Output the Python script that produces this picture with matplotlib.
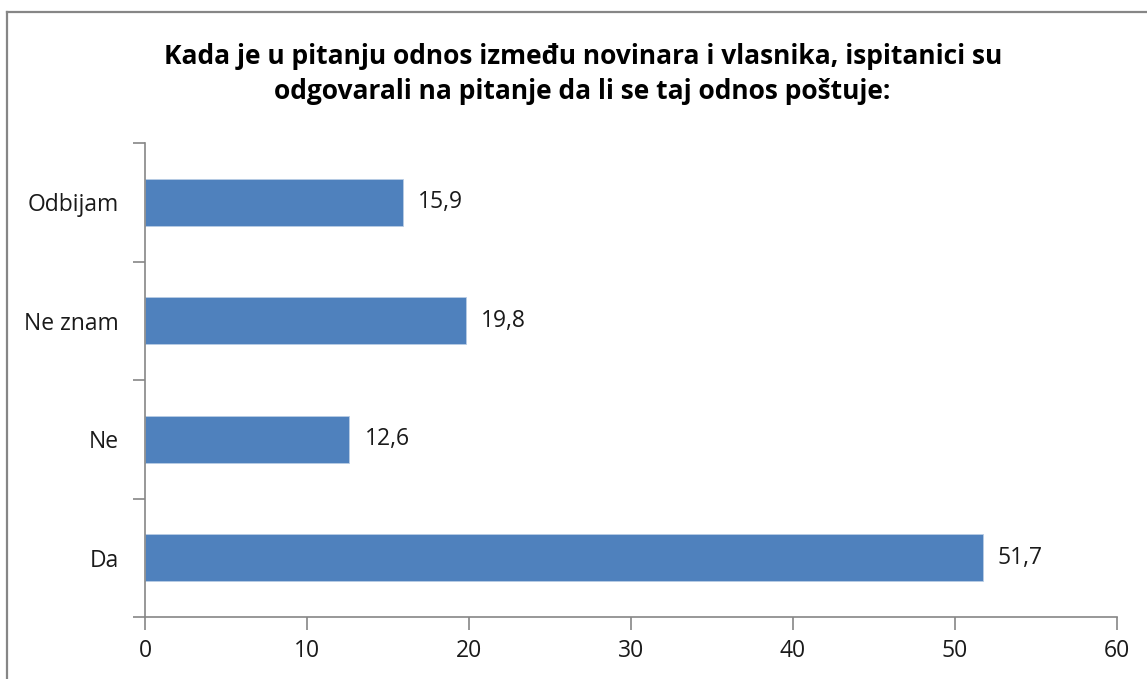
import matplotlib.pyplot as plt
from matplotlib.lines import Line2D

categories = ['Da', 'Ne', 'Ne znam', 'Odbijam']
values = [51.7, 12.6, 19.8, 15.9]
xticks = [0, 10, 20, 30, 40, 50, 60]
title = ('Kada je u pitanju odnos između novinara i vlasnika, ispitanici su\n'
         'odgovarali na pitanje da li se taj odnos poštuje:')

plt.rcParams['font.family'] = ['Open Sans', 'DejaVu Sans']
gray = '#868686'
txt = '#1a1a1a'
fs = 16.5

fig = plt.figure(figsize=(11.47, 6.79), dpi=100)
# outer chart frame, cut off at right and bottom like the source
fx, fy = 7/1147, 1 - 12/679
fig.add_artist(Line2D([fx, fx], [0, fy], transform=fig.transFigure, color=gray, lw=1.6))
fig.add_artist(Line2D([fx, 1], [fy, fy], transform=fig.transFigure, color=gray, lw=1.6))

ax = fig.add_axes([145/1147, 62/679, (1117-145)/1147, (617-143)/679])
ypos = list(range(len(categories)))
ax.barh(ypos, values, height=0.4, color='#4F81BD', edgecolor='#B9CDE5', linewidth=0.6)
for y, v in zip(ypos, values):
    ax.text(v + 0.95, y, ('%.1f' % v).replace('.', ','), va='center', ha='left',
            fontsize=fs, color=txt)

ax.set_xlim(0, 60)
ax.set_ylim(-0.5, len(categories) - 0.5)
ax.set_xticks(xticks)
ax.set_xticklabels([str(t) for t in xticks], fontsize=fs, color=txt)
ax.set_yticks(ypos)
ax.set_yticklabels(categories, fontsize=fs, color=txt)
ax.set_yticks([i - 0.5 for i in range(len(categories) + 1)], minor=True)
ax.tick_params(axis='y', which='major', length=0, pad=19)
ax.tick_params(axis='y', which='minor', length=9, color=gray, width=1.2)
ax.tick_params(axis='x', length=9, color=gray, width=1.2, pad=7)
for s in ['top', 'right']:
    ax.spines[s].set_visible(False)
for s in ['left', 'bottom']:
    ax.spines[s].set_color(gray)
    ax.spines[s].set_linewidth(1.2)

fig.text(0.508, 1 - 74/679, title, ha='center', va='center', fontsize=19,
         fontweight='bold', linespacing=1.4, color='#000000')

fig.savefig('out.png', dpi=100)
